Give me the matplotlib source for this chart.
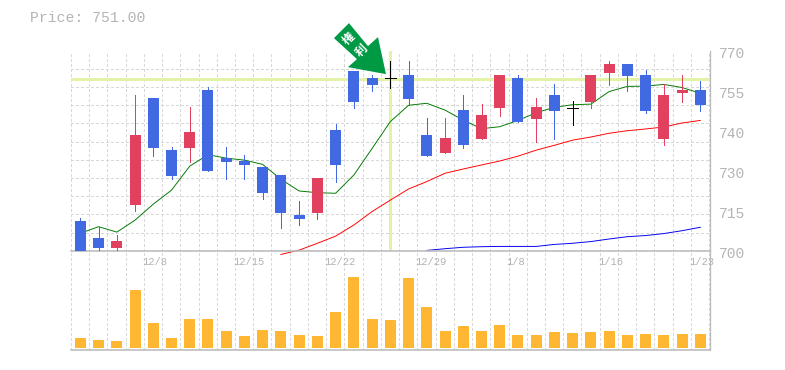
import numpy as np
import matplotlib
matplotlib.use("Agg")
import matplotlib.pyplot as plt
from matplotlib.patches import Polygon
from matplotlib.transforms import Affine2D, ScaledTranslation

plt.rcParams['lines.scale_dashes'] = False
plt.rcParams['font.family'] = ['Liberation Mono', 'DejaVu Sans Mono']

opens = [710.4,704.4,700.9,716.0,753.4,735.2,735.9,756.2,732.4,731.4,729.3,726.5,712.5,713.2,742.2,762.9,760.4,760.3,761.5,740.5,734.2,749.2,739.1,749.9,760.4,746.1,754.5,750.1,752.0,762.2,765.3,761.5,739.1,755.2,756.2]
highs = [711.4,708.4,705.5,754.5,753.4,736.3,750.3,757.3,736.3,733.5,729.3,726.5,717.4,725.4,744.3,762.9,761.5,766.4,766.4,746.4,746.4,754.5,751.3,761.5,761.5,753.4,758.3,752.4,761.5,766.4,765.3,763.2,758.3,761.5,759.4]
lows = [700.0,700.0,700.0,713.9,733.1,725.1,731.0,727.9,725.1,725.1,718.1,707.9,709.0,711.1,724.0,749.9,755.9,756.9,751.0,733.1,734.2,735.9,739.1,747.1,745.0,738.0,739.1,744.0,749.9,758.0,755.9,748.2,737.0,752.0,748.9]
closes = [700.0,700.9,703.4,740.5,735.9,726.1,741.5,727.9,731.0,730.0,720.2,713.2,711.1,725.4,730.0,752.0,758.0,760.3,753.1,733.1,739.4,737.0,747.5,761.5,745.0,750.3,748.9,750.1,761.5,765.3,761.1,748.9,754.5,756.2,751.0]
volumes = [10,8,7,58,25,10,29,29,17,12,18,17,13,12,36,71,29,28,70,41,17,22,17,23,13,13,16,15,16,17,13,14,13,14,14]
ma_short = [706.1,708.4,706.5,710.7,716.3,721.2,729.6,733.6,732.4,731.7,730.2,725.0,720.9,720.3,720.1,726.5,735.8,745.2,750.9,751.6,749.2,745.7,742.7,743.4,745.6,748.3,750.2,751.1,751.3,755.7,757.5,757.6,758.2,757.1,755.1]
ma_mid_start = 11
ma_mid = [698.7,700.2,702.6,705.1,709.0,713.7,717.7,721.6,724.2,727.1,728.6,730.0,731.4,733.1,735.2,736.9,738.7,739.8,741.1,742.0,742.6,743.3,744.7,745.6]
ma_long_start = 19
ma_long = [700.1,700.7,701.2,701.4,701.5,701.5,701.5,702.2,702.6,703.2,704.1,704.9,705.3,706.0,707.0,708.2]
date_idx = [4,9,14,19,24,29,34]
date_labels = ['12/8','12/15','12/22','12/29','1/8','1/16','1/23']
price_ticks = [700,714,728,742,756,770]
price_labels = ['700','715','730','740','755','770']
current_level = 760.2
event_idx = 17

W, H = 785, 370
fig = plt.figure(figsize=(W/100, H/100), dpi=100)
L, R, T, M, B = 70.5, 710.0, 50.7, 250.7, 350.0
ax = fig.add_axes([L/W, (H-M)/H, (R-L)/W, (M-T)/H])
axv = fig.add_axes([L/W, (H-B)/H, (R-L)/W, (B-M)/H])
ax.set_zorder(2); ax.patch.set_alpha(0)

xlim = (-0.54, 34.53)
px = 0.72
THIN = px*0.9
MA_LW = px*0.95
GRID = '#d8d8d8'; AXC = '#bbbbbb'; TXT = '#b4b4b4'
DASH = (0, (2.0, 2.1))
grid_x = np.arange(-0.52, 35, 1.0)
n = len(opens)
x = np.arange(n)

for a in (ax, axv):
    a.set_xlim(*xlim)
    a.set_xticks(grid_x, minor=True)
    a.tick_params(which='both', length=0)
    a.grid(which='minor', axis='x', color=GRID, lw=THIN, ls=DASH, antialiased=False)
    a.set_axisbelow(True)
    for s in a.spines.values():
        s.set_visible(False)
    a.spines['right'].set_visible(True)
    a.spines['bottom'].set_visible(True)
    a.spines['right'].set_color(AXC); a.spines['bottom'].set_color(AXC)
    a.spines['right'].set_linewidth(px*1.3); a.spines['bottom'].set_linewidth(px*1.6)

ax.set_ylim(700, 770)
ax.set_yticks(np.linspace(700, 770, 12), minor=True)
ax.grid(which='minor', axis='y', color=GRID, lw=THIN, ls=DASH, antialiased=False)
ax.yaxis.tick_right()
ax.set_yticks(price_ticks, price_labels, fontsize=14.6/1.389, color=TXT)
ax.tick_params(axis='y', which='major', pad=6.5)
for lab in ax.get_yticklabels():
    lab.set_transform(lab.get_transform() + ScaledTranslation(0, -2/100, fig.dpi_scale_trans))

ax.set_xticks(date_idx, date_labels, fontsize=7.6, color=TXT, ha='left')
ax.tick_params(axis='x', which='major', pad=4.2)
for lab in ax.get_xticklabels():
    lab.set_transform(lab.get_transform() + ScaledTranslation(-11.3/100, 0, fig.dpi_scale_trans))

HL = '#e2f2a6'
ax.axhline(current_level, color=HL, lw=px*3, zorder=1.5, antialiased=False)
ax.axvline(event_idx, ymin=0.01, ymax=1, color=HL, lw=px*3, zorder=1.5, antialiased=False)

ax.plot(x, ma_short, color='#007a00', lw=MA_LW, zorder=2)
ax.plot(x[ma_mid_start:], ma_mid, color='#ff0000', lw=MA_LW, zorder=2, clip_on=False)
ax.plot(x[ma_long_start:], ma_long, color='#0000ee', lw=MA_LW, zorder=2)

BLUE = '#4169e1'; RED = '#e2405f'
body_w = 11/18.235
for i in range(n):
    o, h, l, c = opens[i], highs[i], lows[i], closes[i]
    col = 'black' if o == c else (RED if c > o else BLUE)
    ax.vlines(i, l, h, color=col, lw=THIN, zorder=3, antialiased=False)
    if o == c:
        ax.hlines(o, i-body_w/2, i+body_w/2, color=col, lw=THIN, zorder=3, antialiased=False)
    else:
        ax.bar(i, abs(c-o), bottom=min(o, c), width=body_w, color=col, zorder=3, antialiased=False)

axv.set_ylim(-2, 97.3)
axv.set_yticks([])
axv.set_xticks([])
axv.set_xticks(grid_x, minor=True)
axv.bar(x, volumes, width=body_w, color='#ffb733', zorder=3, antialiased=False)

# event arrow, shape in pixels relative to its tip
arrow_shape = [(0,0),(-8,-37),(-18,-28),(-37,-51),(-52,-36),(-29,-15),(-38,-7)]
tip = ax.transData.transform((event_idx-0.24, 761.8))
ax.add_patch(Polygon(arrow_shape, closed=True, facecolor='#009944', edgecolor='none', zorder=5, clip_on=False,
                     transform=Affine2D().scale(1,-1).translate(*tip)))
for ch, (dx, dy) in zip('権利', [(-37,-35),(-24,-23)]):
    ax.text(tip[0]+dx, tip[1]-dy, ch, transform=None, color='white', fontsize=8.5, fontweight='bold',
            family=['Noto Sans CJK JP'], rotation=45, rotation_mode='anchor', ha='center', va='center', zorder=6)

fig.text(30/W, 1-18/H, 'Price: 751.00', fontsize=14.8/1.389, color=TXT, va='center', ha='left')

fig.savefig('out.png', dpi=100, facecolor='white')
